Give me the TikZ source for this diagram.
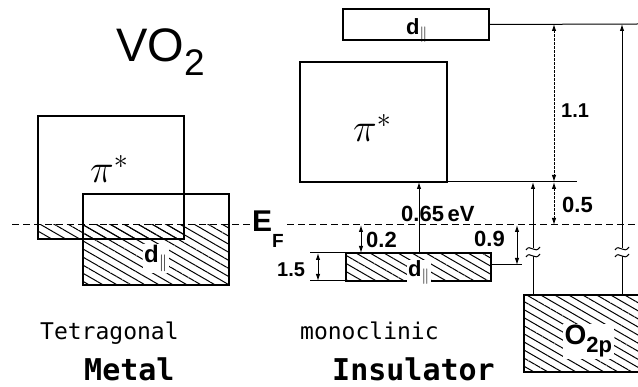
\documentclass[tikz,border=0pt]{standalone}
\usepackage{fix-cm}
\usepackage{fontspec}
\setmainfont{Liberation Sans}
\newfontfamily\monof{DejaVu Sans Mono}
\usetikzlibrary{arrows.meta,patterns.meta}
\newcommand\fsz[1]{\fontsize{#1}{#1}\selectfont}
\begin{document}
\begin{tikzpicture}[x=1pt,y=-1pt,
  box/.style={draw,line width=1.2pt,inner sep=0pt,outer sep=0pt,anchor=north west},
  hatch/.style={pattern={Lines[angle=-30,distance=7pt,line width=1pt]}},
  thin/.style={line width=1pt},
  tip/.tip={Latex[length=7pt,width=4.5pt]},
  dim/.style={line width=1pt,tip-tip},
  uparrow/.style={line width=1pt,-tip},
  dotdim/.style={line width=1pt,tip-tip,dash pattern=on 2.5pt off 1.5pt},
  efline/.style={line width=1pt,dash pattern=on 7pt off 4pt},
  lbl/.style={anchor=base west,inner sep=0pt,font=\bfseries},
  captxt/.style={anchor=base west,inner sep=0pt,text depth=0pt},
  wlbl/.style={anchor=base,fill=white,inner sep=1.5pt,font=\bfseries},
  brk/.pic={
    \fill[white] (-7,-4) rectangle (7,4);
    \draw[line width=1pt] (-7,-2) .. controls (-3,-9) and (2,3) .. (7,-5);
    \draw[line width=1pt] (-7,5) .. controls (-3,-2) and (2,10) .. (7,2);
  }]
\useasboundingbox (0,0) rectangle (638,387);

% ---------- left: metal ----------
\fill[hatch] (38,225) rectangle (184,239);
\fill[hatch] (83,225) rectangle (229,285);
\node[box,minimum width=146pt,minimum height=123pt] (piL) at (38,116) {};
\node[box,minimum width=146pt,minimum height=91pt] (dL) at (83,194) {};
\node[lbl] (piLl) at (90,183) {\fsz{40}$\pi^{*}$};
\node[wlbl] (dLl) at (156,263) {\fsz{24}d$_{\parallel}$};

\node[lbl,font=\mdseries] (vo) at (116,62) {\fsz{47}VO\raisebox{-14pt}{\fsz{37}2}};

% Fermi level
\coordinate (efL) at (12,225);
\coordinate (efR) at (638,225);
\draw[efline] (efL) -- (efR);
\node[anchor=base west,fill=white,inner sep=1pt,font=\bfseries] (ef) at (251,232) {\fsz{30}E\raisebox{-16pt}{\fsz{19}F}};

% ---------- right: insulator ----------
\node[box,minimum width=146pt,minimum height=31pt] (dT) at (343,9) {};
\node[lbl,anchor=base] (dTl) at (417,35) {\fsz{22}d$_{\parallel}$};
\coordinate (topR) at (638,24);
\draw[thin] (dT.east) -- (topR);

\node[box,minimum width=147pt,minimum height=120pt] (piR) at (300,62) {};
\node[lbl] (piRl) at (353,142) {\fsz{40}$\pi^{*}$};
\coordinate (piRend) at (577,182);
\draw[thin] (piR.south east) -- (piRend);

\fill[hatch] (346,253) rectangle (491,281);
\node[box,minimum width=145pt,minimum height=28pt] (dM) at (346,253) {};
\node[wlbl] (dMl) at (419,277) {\fsz{22}d$_{\parallel}$};

\fill[hatch] (524,295) rectangle (638,372);
\draw[line width=1.2pt] (642,295) -- (524,295) -- (524,372) -- (642,372);
\coordinate (o2tl) at (524,295);
\node[anchor=base west,fill=white,inner sep=1.5pt,font=\bfseries] (o2l) at (563,345) {\fsz{28}O\raisebox{-8pt}{\fsz{22}2p}};

% dimension helpers
\coordinate (ext15a) at (310,253);
\coordinate (ext15b) at (310,281);
\draw[thin] (ext15a) -- (dM.north west);
\draw[thin] (ext15b) -- (dM.south west);
\draw[dim] (318,253) -- (318,281);
\node[lbl] (l15) at (277,277) {\fsz{20}1.5};

\draw[dim] (361,225) -- (361,253);
\node[lbl] (l02) at (366,248) {\fsz{22}0.2};

\coordinate (ext09) at (522,265);
\draw[thin] (491,265) -- (ext09);
\draw[dim] (517,225) -- (517,265);
\node[lbl] (l09) at (474,247) {\fsz{22}0.9};

\draw[uparrow] (419,253) -- (419,182);
\node[lbl] (l065) at (401,222) {\fsz{22}0.65\,eV};

\draw[dotdim] (554,24) -- (554,182);
\node[lbl] (l11) at (561,118) {\fsz{20}1.1};
\draw[dotdim] (554,182) -- (554,225);
\node[lbl] (l05) at (562,213) {\fsz{22}0.5};

\draw[uparrow] (533,295) -- (533,182);
\pic at (533,252) {brk};
\draw[uparrow] (622,295) -- (622,24);
\pic at (622,252) {brk};

% ---------- captions ----------
\node[captxt] (tet) at (40,340) {\monof\fsz{23}Tetragonal};
\node[captxt] (mono) at (300,340) {\monof\fsz{23}monoclinic};
\node[captxt] (met) at (84,381) {\monof\bfseries\fsz{30}Metal};
\node[captxt] (ins) at (332,381) {\monof\bfseries\fsz{30}Insulator};
\end{tikzpicture}
\end{document}
